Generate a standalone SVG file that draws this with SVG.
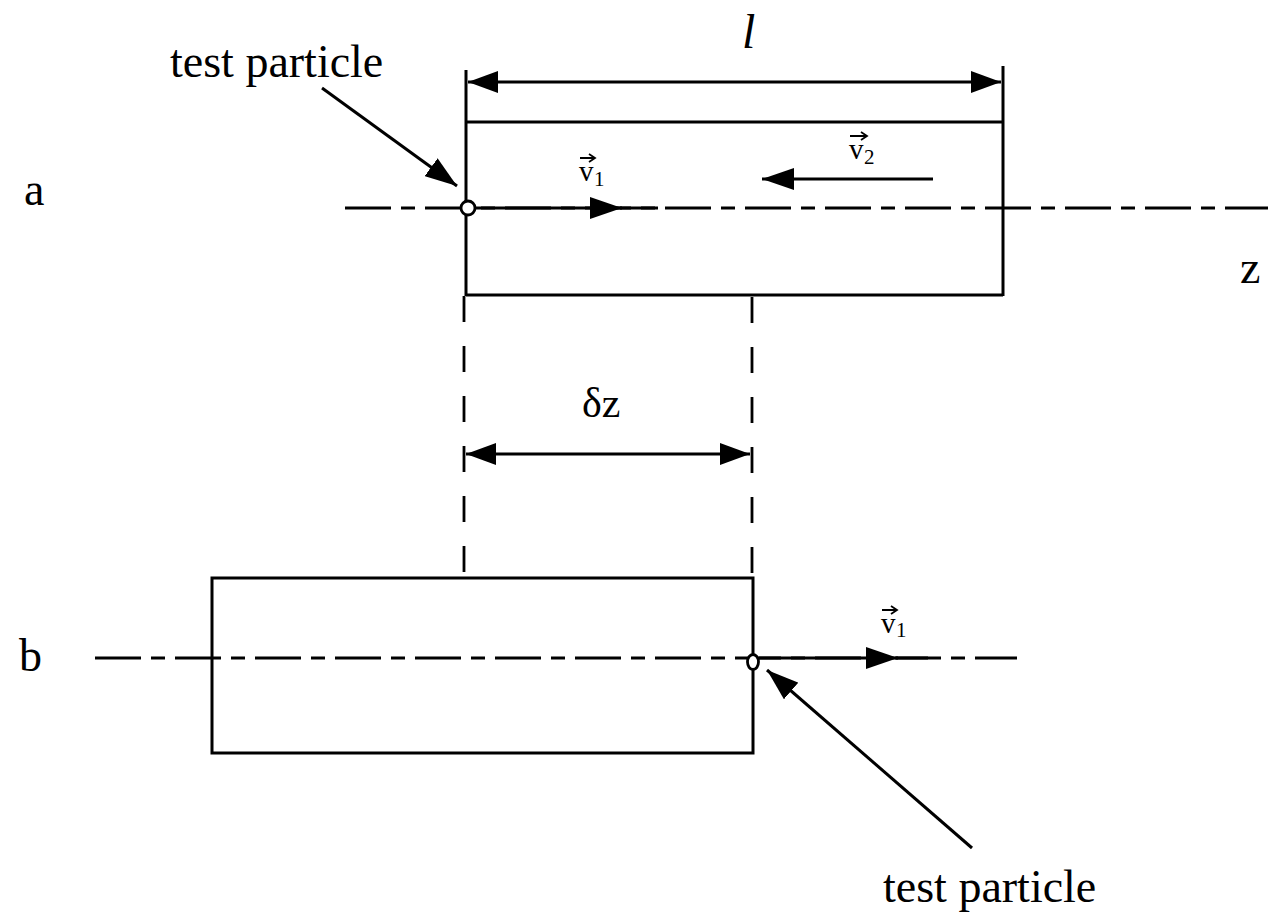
<svg xmlns="http://www.w3.org/2000/svg" width="1268" height="917" viewBox="0 0 1268 917">
<style>
.ln{stroke:#000;stroke-width:3;fill:none}
.axis{stroke:#000;stroke-width:3;fill:none;stroke-dasharray:46 10 14 10}
.vdash{stroke:#000;stroke-width:2.8;fill:none;stroke-dasharray:26 24}
.t{font-family:"Liberation Serif","Times New Roman",serif;fill:#000}
.lbl{font-size:46px}
.vec{font-size:29px}
.sub{font-size:21px}
</style>
<defs>
<marker id="ah" viewBox="0 0 30 22" markerWidth="30" markerHeight="22" refX="30" refY="11" orient="auto-start-reverse" markerUnits="userSpaceOnUse">
<path d="M0,0 L30,11 L0,22 z" fill="#000"/>
</marker>
<marker id="ahm" viewBox="0 0 32 22" markerWidth="32" markerHeight="22" refX="32" refY="11" orient="auto" markerUnits="userSpaceOnUse">
<path d="M0,0 L32,11 L0,22 z" fill="#000"/>
</marker>
</defs>

<g id="frame-a">
<line class="ln" x1="466" y1="70" x2="466" y2="296"/>
<line class="ln" x1="1003" y1="66" x2="1003" y2="296"/>
<line class="ln" x1="466" y1="122" x2="1003" y2="122"/>
<line class="ln" x1="466" y1="295" x2="1003" y2="295"/>
</g>

<g id="frame-b">
<rect class="ln" x="212" y="578" width="541" height="175"/>
</g>

<g id="connectors">
<line class="axis" x1="345" y1="208" x2="1268" y2="208"/>
<line class="axis" x1="95" y1="658" x2="1017" y2="658"/>
<line class="vdash" x1="464" y1="296" x2="464" y2="572"/>
<line class="vdash" x1="752" y1="297" x2="752" y2="578"/>
<line class="ln" x1="468" y1="82" x2="1001" y2="82" marker-start="url(#ah)" marker-end="url(#ah)"/>
<line class="ln" x1="466" y1="454" x2="750" y2="454" marker-start="url(#ah)" marker-end="url(#ah)"/>
<line class="ln" x1="475" y1="208" x2="622" y2="208" marker-end="url(#ahm)"/>
<line class="ln" x1="620" y1="208" x2="658" y2="208"/>
<line class="ln" x1="933" y1="179" x2="762" y2="179" marker-end="url(#ahm)"/>
<line class="ln" x1="759" y1="658" x2="898" y2="658" marker-end="url(#ahm)"/>
<line class="ln" x1="896" y1="658" x2="928" y2="658"/>
<line class="ln" x1="322" y1="88" x2="457" y2="186" marker-end="url(#ahm)"/>
<line class="ln" x1="972" y1="848" x2="767" y2="670" marker-end="url(#ahm)"/>
</g>

<g id="particle-a">
<circle cx="468" cy="208" r="7" fill="#fff" stroke="#000" stroke-width="2.8"/>
</g>
<g id="particle-b">
<ellipse cx="753" cy="662" rx="5.5" ry="7.5" fill="#fff" stroke="#000" stroke-width="2.8"/>
</g>

<g id="labels">
<text class="t lbl" x="170" y="77">test particle</text>
<text class="t lbl" x="883" y="902">test particle</text>
<text class="t lbl" x="24" y="205">a</text>
<text class="t lbl" x="19" y="671">b</text>
<text class="t lbl" x="1240" y="283">z</text>
<text class="t" x="742" y="48" font-size="48" font-style="italic">l</text>
<text class="t" x="582" y="417" font-size="42">δz</text>
<g id="v1a">
<text class="t vec" x="579" y="181">v</text>
<text class="t sub" x="594" y="186">1</text>
<path d="M580,158 H594 M589,154 L595,158 L589,162" stroke="#000" stroke-width="1.8" fill="none"/>
</g>
<g id="v2a">
<text class="t vec" x="849" y="159">v</text>
<text class="t sub" x="864" y="164">2</text>
<path d="M850,136 H866 M861,132 L867,136 L861,140" stroke="#000" stroke-width="1.8" fill="none"/>
</g>
<g id="v1b">
<text class="t vec" x="881" y="633">v</text>
<text class="t sub" x="896" y="637">1</text>
<path d="M882,610 H896 M891,606 L897,610 L891,614" stroke="#000" stroke-width="1.8" fill="none"/>
</g>
</g>
</svg>
